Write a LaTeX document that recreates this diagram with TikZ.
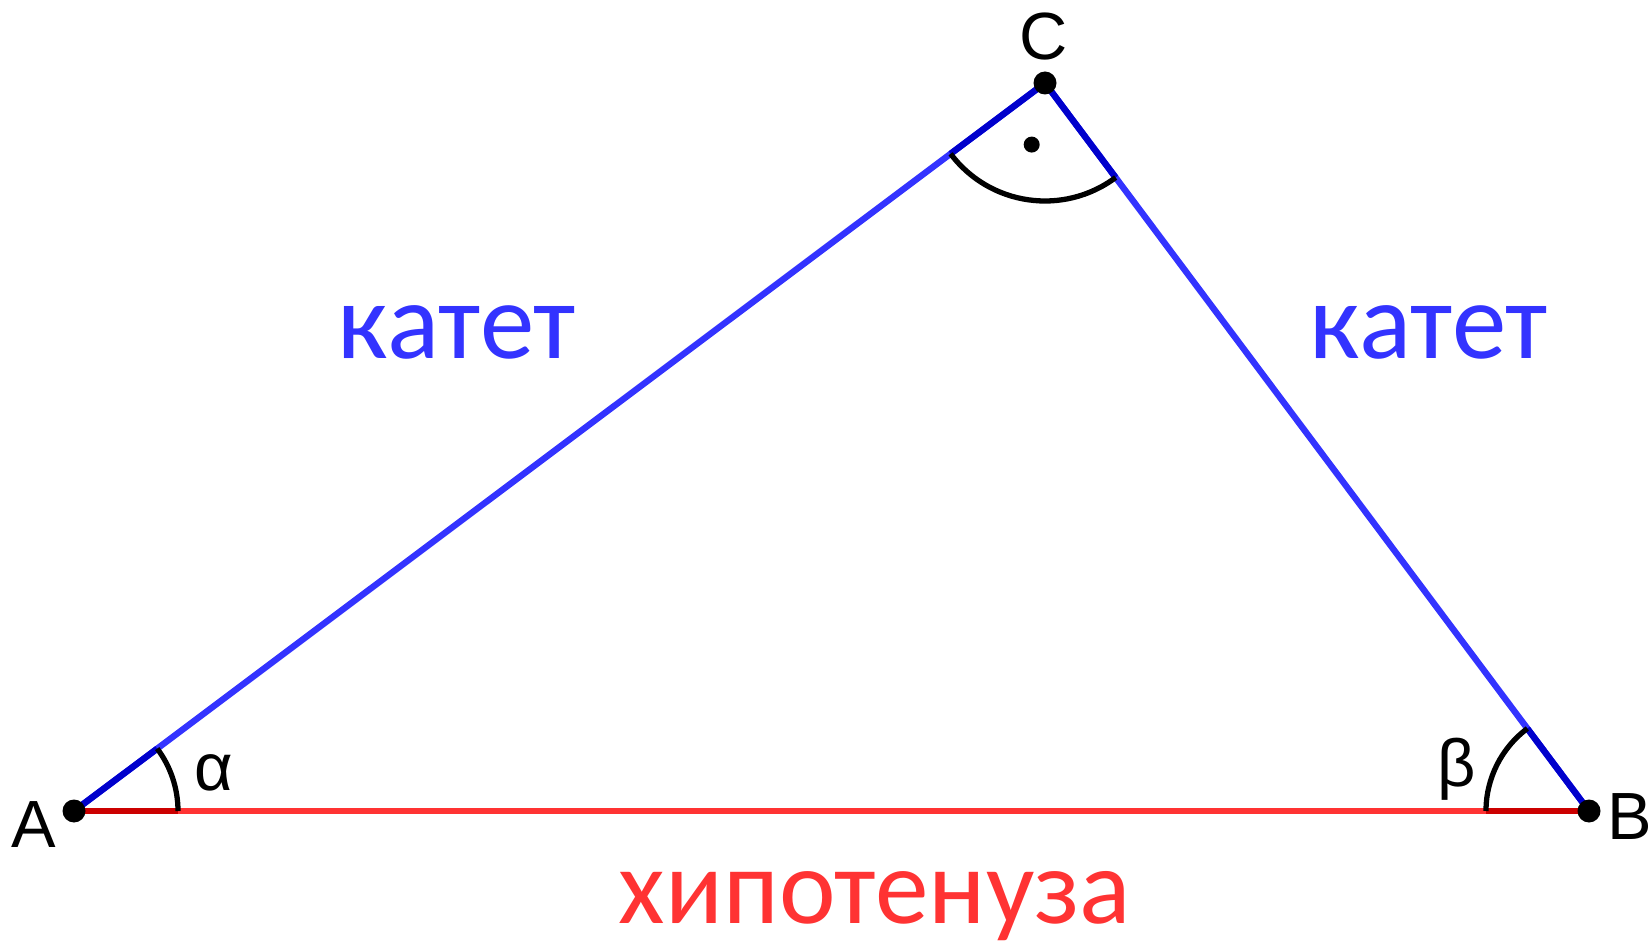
\documentclass[tikz,border=0pt]{standalone}
\usepackage{fontspec}
\setmainfont{Liberation Sans}
\newfontfamily\sidefont{Carlito}
\usetikzlibrary{calc,angles}

\tikzset{
  leg/.style={blue!80,line width=1.8pt},
  hyp/.style={red!80,line width=1.8pt},
  vertex/.style={circle,fill=black,inner sep=0pt,minimum size=0.23cm},
  rdot/.style={circle,fill=black,inner sep=0pt,minimum size=0.16cm},
  arcline/.style={draw=black,line width=1.5pt},
  vname/.style={font=\fontsize{19}{22}\selectfont},
  sidename/.style={font=\sidefont\fontsize{31}{36}\selectfont},
}

\begin{document}
\begin{tikzpicture}
\useasboundingbox (0,0) rectangle (16.5,9.43);
%vertices
\coordinate (A) at (0.74,1.32);
\coordinate (B) at (15.89,1.32);
\coordinate (C) at (10.45,8.60);
%sides
\draw[hyp] (A) -- (B);
\draw[leg] (A) -- (C);
\draw[leg] (C) -- (B);
%darker parts inside the angles
\draw[hyp,red!80!black] (A) -- ($(A)!1.04cm!(B)$);
\draw[leg,blue!80!black] (A) -- ($(A)!1.04cm!(C)$);
\draw[hyp,red!80!black] (B) -- ($(B)!1.03cm!(A)$);
\draw[leg,blue!80!black] (B) -- ($(B)!1.03cm!(C)$);
\draw[leg,blue!80!black] (C) -- ($(C)!1.18cm!(A)$);
\draw[leg,blue!80!black] (C) -- ($(C)!1.18cm!(B)$);
%angles
\pic[arcline,angle radius=1.04cm] {angle=B--A--C};
\pic[arcline,angle radius=1.03cm] {angle=C--B--A};
\pic[arcline,angle radius=1.18cm] {angle=A--C--B};
\node[rdot] (right) at ($(C)+(257.8:0.63)$) {};
%points
\node[vertex] (pA) at (A) {};
\node[vertex] (pB) at (B) {};
\node[vertex] (pC) at (C) {};
%text
\node[vname] (lA) at (0.34,1.18) {A};
\node[vname] (lB) at (16.30,1.26) {B};
\node[vname] (lC) at (10.44,9.06) {C};
\node[vname] (alpha) at (2.14,1.70) {α};
\node[vname] (beta) at (14.57,1.74) {β};
\node[sidename,text=blue!80] (leg1) at (4.57,6.11) {катет};
\node[sidename,text=blue!80] (leg2) at (14.29,6.11) {катет};
\node[sidename,text=red!80,anchor=base,font=\sidefont\fontsize{30.5}{36}\selectfont] (hyp) at (8.75,0.2) {хипотенуза};
\end{tikzpicture}
\end{document}
